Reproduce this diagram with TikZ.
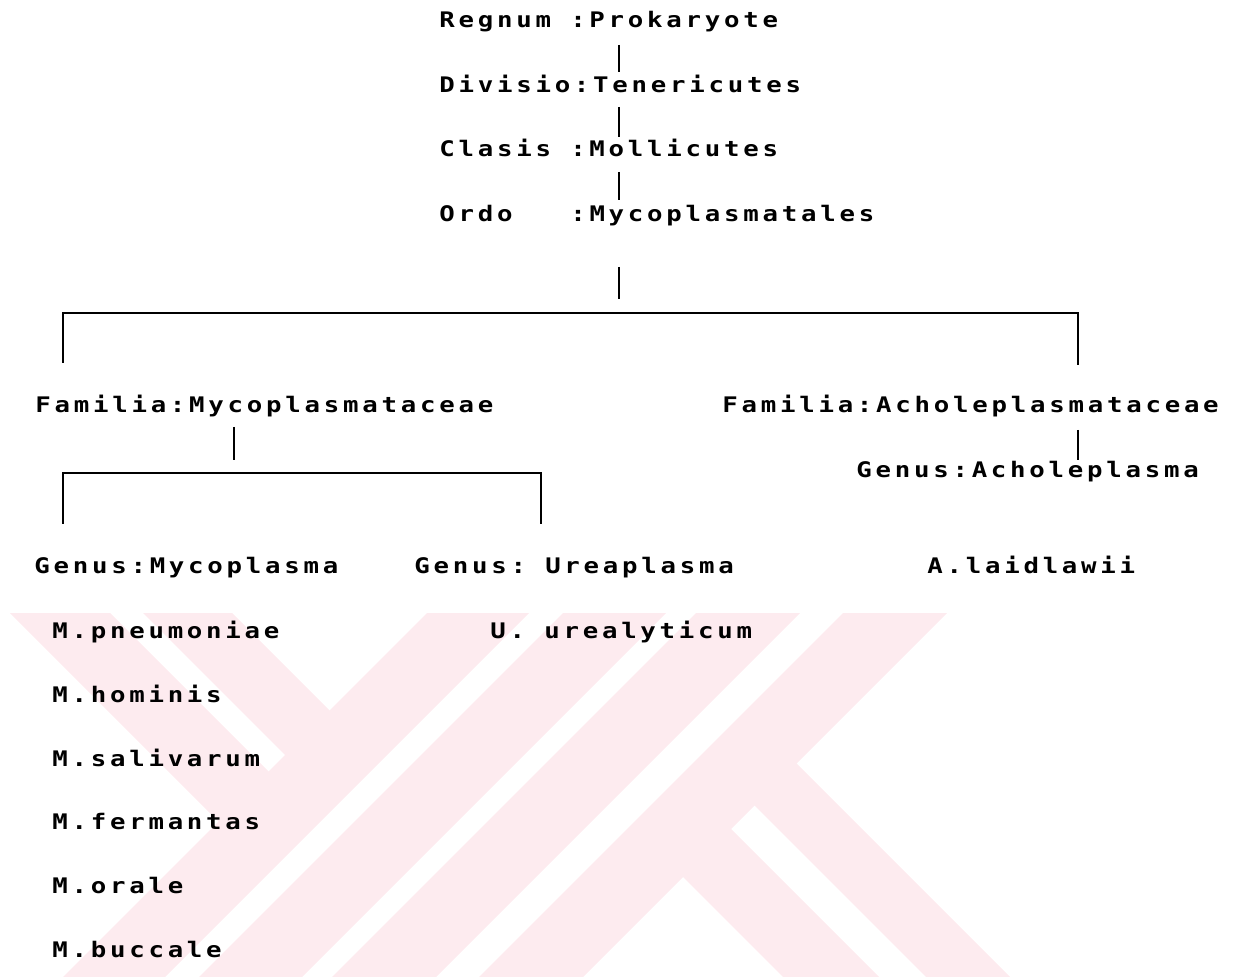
\documentclass[tikz,border=0pt]{standalone}
\usepackage{fontspec}
\newfontfamily\printer{DejaVu Sans Mono}[FakeStretch=1.2,LetterSpace=17.5]
\definecolor{stamp}{RGB}{253,235,239}
\newcommand{\colgap}{\hspace*{0.385cm}}

\begin{document}
\begin{tikzpicture}
    [x=0.02cm,y=-0.02cm,
     taxon/.style={anchor=base west,inner sep=0pt,font=\printer\bfseries\fontsize{12.2pt}{14pt}\selectfont},
     branch/.style={line width=1.3pt}]
    \useasboundingbox (0,0) rectangle (1254,979);

    % faint stamp behind the lower part
    \begin{scope}
      \clip (0,613) rectangle (1254,976);
      \fill[stamp] (440,600) -- (542,600) -- (152,990) -- (50,990) -- cycle;
      \fill[stamp] (576,600) -- (679,600) -- (289,990) -- (186,990) -- cycle;
      \fill[stamp] (709,600) -- (813,600) -- (423,990) -- (319,990) -- cycle;
      \fill[stamp] (856,600) -- (960,600) -- (570,990) -- (466,990) -- cycle;
      \fill[stamp] (-13,590) -- (87,590) -- (273.5,776.5) -- (223.5,826.5) -- cycle;
      \fill[stamp] (120,590) -- (209,590) -- (334.5,715.5) -- (290,760) -- cycle;
      \fill[stamp] (749.5,800.5) -- (791.5,758.5) -- (1023,990) -- (939,990) -- cycle;
      \fill[stamp] (678,872) -- (726,824) -- (892,990) -- (796,990) -- cycle;
    \end{scope}

    \node[taxon] (regnum) at (439,28) {Regnum\colgap:Prokaryote};
    \node[taxon] (divisio) at (439,93) {Divisio:Tenericutes};
    \node[taxon] (clasis) at (439,157) {Clasis\colgap:Mollicutes};
    \node[taxon] (ordo) at (439,222) {Ordo\colgap\colgap\colgap:Mycoplasmatales};

    \node[taxon] (famMyco) at (35,413) {Familia:Mycoplasmataceae};
    \node[taxon] (famAchol) at (722,413) {Familia:Acholeplasmataceae};
    \node[taxon] (genAchol) at (856,478) {Genus:Acholeplasma};

    \node[taxon] (genMyco) at (34,573) {Genus:Mycoplasma};
    \node[taxon] (genUrea) at (414,573) {Genus:\colgap Ureaplasma};
    \node[taxon] (laidlawii) at (927,573) {A.laidlawii};

    \node[taxon] (pneumoniae) at (52,638) {M.pneumoniae};
    \node[taxon] (hominis) at (52,702) {M.hominis};
    \node[taxon] (salivarum) at (52,766) {M.salivarum};
    \node[taxon] (fermantas) at (52,829) {M.fermantas};
    \node[taxon] (orale) at (52,893) {M.orale};
    \node[taxon] (buccale) at (52,957) {M.buccale};
    \node[taxon] (urealyticum) at (490,638) {U.\colgap urealyticum};

    % tree lines
    \coordinate (r1) at (619,45);   \coordinate (d1) at (619,72);
    \coordinate (d2) at (619,107);  \coordinate (c1) at (619,137);
    \coordinate (c2) at (619,172);  \coordinate (o1) at (619,200);
    \coordinate (o2) at (619,267);  \coordinate (o3) at (619,299);
    \coordinate (fork1) at (619,313);
    \coordinate (famMyco-in) at (63,363);
    \coordinate (famAchol-in) at (1078,365);
    \coordinate (fm1) at (234,427); \coordinate (fm2) at (234,460);
    \coordinate (fork2) at (234,473);
    \coordinate (genMyco-in) at (63,524);
    \coordinate (genUrea-in) at (541,524);
    \coordinate (fa1) at (1078,430); \coordinate (fa2) at (1078,460);

    \draw[branch] (r1) -- (d1);
    \draw[branch] (d2) -- (c1);
    \draw[branch] (c2) -- (o1);
    \draw[branch] (o2) -- (o3);
    \draw[branch] (famMyco-in) |- (fork1) -| (famAchol-in);
    \draw[branch] (fm1) -- (fm2);
    \draw[branch] (genMyco-in) |- (fork2) -| (genUrea-in);
    \draw[branch] (fa1) -- (fa2);
\end{tikzpicture}
\end{document}
